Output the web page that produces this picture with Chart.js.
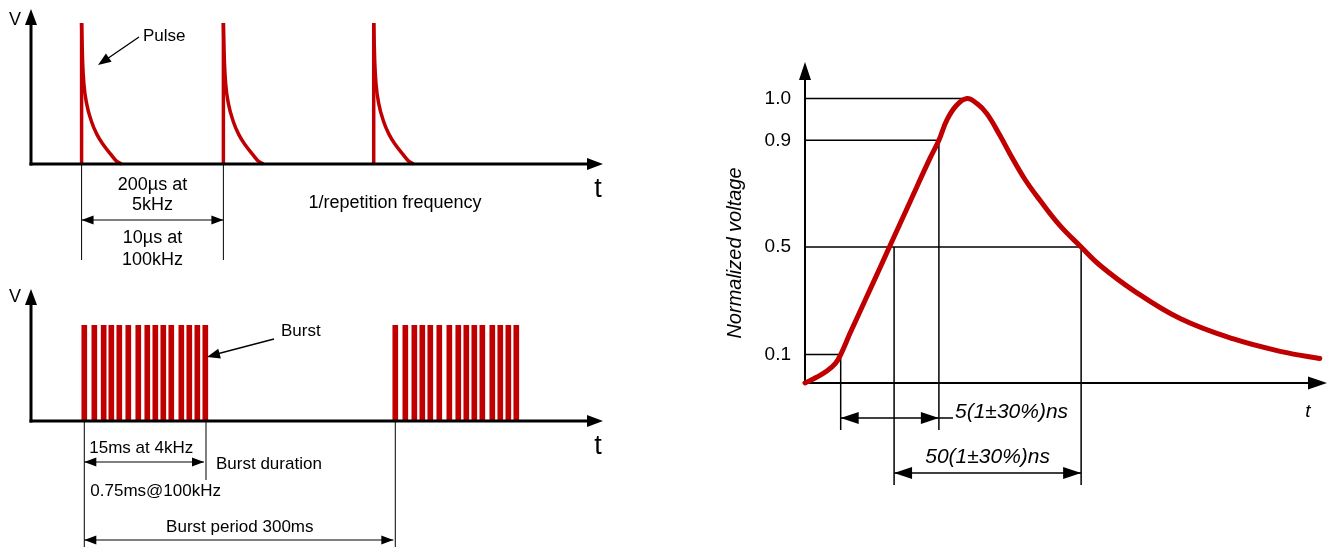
<!DOCTYPE html>
<html>
<head>
<meta charset="utf-8">
<script src="https://cdn.jsdelivr.net/npm/chart.js@4/dist/chart.umd.min.js"></script>
<style>
body { margin: 0; background: #fff; }
#wrap { position: relative; width: 1332px; height: 547px; overflow: hidden; background: #fff; }
canvas { position: absolute; }
</style>
</head>
<body>
<div id="wrap">
	<canvas id="pulseChart" style="left:0;top:0;width:620px;height:280px" width="620" height="280"></canvas>
	<canvas id="burstChart" style="left:0;top:280px;width:620px;height:267px" width="620" height="267"></canvas>
	<canvas id="surgeChart" style="left:700px;top:0;width:632px;height:547px" width="632" height="547"></canvas>
</div>
<script>
// ---- pulse train (top left), time in µs ----
var pulseStartsUs = [71, 270, 481];
var pulseDecayDtUs = [0, 1.4, 3.2, 7, 14, 21.5, 30, 40.7, 49, 56];
var pulseDecayV = [1, 0.73, 0.57, 0.43, 0.30, 0.21, 0.14, 0.07, 0.02, 0];

// ---- bursts (bottom left), time in arbitrary units ----
var burstPos = [9.35, 11.11, 12.75, 14.09, 15.49, 17.07, 18.82, 20.40, 21.81, 23.21, 24.61, 26.37, 27.77, 29.18, 30.58,
	63.91, 65.67, 67.25, 68.65, 70.05, 71.63, 73.39, 74.96, 76.37, 77.77, 79.18, 80.93, 82.33, 83.74, 85.14];
var burstLevel = 1;
var burstEndT = 30.7;
var nextBurstT = 63.91;

// ---- single surge waveform (right), normalized voltage ----
var surgeT = [0, 2.2, 4.2, 5.8, 6.85, 8.64, 11.52, 14.4, 16.2, 20.15, 24.0, 25.7, 27.2, 29.1, 31.1, 33.0, 34.9, 37.4, 39.35, 42.2, 45.1, 48.9, 53.0, 56.6, 63.0, 72.0, 82.1, 91.7, 98.8];
var surgeV = [0, 0.02, 0.042, 0.068, 0.1, 0.179, 0.301, 0.423, 0.5, 0.669, 0.833, 0.9, 0.948, 0.984, 1.0, 0.988, 0.964, 0.912, 0.849, 0.754, 0.675, 0.581, 0.5, 0.432, 0.339, 0.234, 0.159, 0.110, 0.086];
var levelTicks = [0.1, 0.5, 0.9, 1.0];
var levelLabels = ['0.1', '0.5', '0.9', '1.0'];
var levelEndT = [6.85, 53.0, 25.7, 30.7];
var rise10T = 6.85, rise90T = 25.7, half1T = 17.1, half2T = 53.0;

var RED = '#c00000';
var FONT = '"Liberation Sans", Arial, sans-serif';

// the drawing is not to scale in voltage, so the y axis is piecewise
var yWarpKnots = { v: [0, 0.1, 0.5, 0.9, 1.0, 1.13], h: [0, 28.4, 136, 242.7, 284.4, 321] };
function warpLevel(v) {
	var k = yWarpKnots;
	for (var i = 1; i < k.v.length; i++) {
		if (v <= k.v[i]) {
			return k.h[i - 1] + (v - k.v[i - 1]) / (k.v[i] - k.v[i - 1]) * (k.h[i] - k.h[i - 1]);
		}
	}
	return k.h[k.h.length - 1];
}
class WarpScale extends Chart.LinearScale {
	getPixelForValue(value) {
		return this.getPixelForDecimal(warpLevel(value) / warpLevel(this.max));
	}
}
WarpScale.id = 'warp';
WarpScale.defaults = Chart.LinearScale.defaults;
Chart.register(WarpScale);

function seg(c, x1, y1, x2, y2, w) {
	c.save();
	c.strokeStyle = '#000';
	c.lineWidth = w;
	c.beginPath();
	c.moveTo(x1, y1);
	c.lineTo(x2, y2);
	c.stroke();
	c.restore();
}
function head(c, x, y, ang, len, hw) {
	var ca = Math.cos(ang), sa = Math.sin(ang);
	c.save();
	c.fillStyle = '#000';
	c.beginPath();
	c.moveTo(x, y);
	c.lineTo(x - len * ca - hw * sa, y - len * sa + hw * ca);
	c.lineTo(x - len * ca + hw * sa, y - len * sa - hw * ca);
	c.closePath();
	c.fill();
	c.restore();
}
function dim(c, x1, x2, y, len, hw, w) {
	seg(c, x1, y, x2, y, w);
	head(c, x1, y, Math.PI, len, hw);
	head(c, x2, y, 0, len, hw);
}
function label(c, s, x, y, size, align, italic) {
	c.save();
	c.fillStyle = '#000';
	c.font = (italic ? 'italic ' : '') + size + 'px ' + FONT;
	c.textAlign = align || 'center';
	c.textBaseline = 'middle';
	c.fillText(s, x, y);
	c.restore();
}

function baseOptions(pad, xMin, xMax, yMin, yMax, yType) {
	return {
		responsive: false,
		animation: false,
		events: [],
		layout: { padding: pad },
		plugins: { legend: { display: false }, tooltip: { enabled: false } },
		scales: {
			x: { type: 'linear', display: false, min: xMin, max: xMax, offset: false },
			y: { type: yType || 'linear', display: false, min: yMin, max: yMax }
		}
	};
}

// ================= pulse chart =================
var pulseSets = [];
for (var i = 0; i < pulseStartsUs.length; i++) {
	var s = pulseStartsUs[i];
	pulseSets.push({
		data: [{ x: s, y: 0 }, { x: s, y: 1 }],
		borderColor: RED, borderWidth: 3.5, pointRadius: 0, tension: 0, clip: false
	});
	var decay = [];
	for (var j = 0; j < pulseDecayDtUs.length; j++) {
		decay.push({ x: s + pulseDecayDtUs[j], y: pulseDecayV[j] });
	}
	pulseSets.push({
		data: decay,
		borderColor: RED, borderWidth: 3.5, pointRadius: 0, cubicInterpolationMode: 'monotone', clip: false
	});
}

var pulseOptions = baseOptions({ left: 31, top: 23, right: 19, bottom: 116 }, 0, 800, 0, 1);
new Chart(document.getElementById('pulseChart'), {
	type: 'line',
	data: { datasets: pulseSets },
	options: pulseOptions,
	plugins: [{
		id: 'pulseNotes',
		afterDatasetsDraw: function(chart) {
			var c = chart.ctx, xs = chart.scales.x, ys = chart.scales.y;
			var x0 = xs.getPixelForValue(0), y0 = ys.getPixelForValue(0);
			seg(c, x0, y0 + 1.5, x0, 24, 3);
			head(c, x0, 9, -Math.PI / 2, 16, 6);
			seg(c, x0 - 1.5, y0, 590, y0, 3);
			head(c, 603, y0, 0, 16, 6);
			var p1 = xs.getPixelForValue(pulseStartsUs[0]), p2 = xs.getPixelForValue(pulseStartsUs[1]);
			seg(c, p1, y0, p1, 260, 1);
			seg(c, p2, y0, p2, 260, 1);
			dim(c, p1, p2, 220, 12, 4.5, 1.2);
			var m = (p1 + p2) / 2;
			label(c, '200µs at', m, 185, 18);
			label(c, '5kHz', m, 205, 18);
			label(c, '10µs at', m, 238, 18);
			label(c, '100kHz', m, 260, 18);
			label(c, '1/repetition frequency', 395, 203, 18);
			label(c, 't', 598, 190, 27);
			label(c, 'V', 15, 20, 18);
			label(c, 'Pulse', 143, 36, 17, 'left');
			seg(c, 139, 37, 104, 61, 1.3);
			head(c, 98, 65, Math.atan2(65 - 37, 98 - 139), 13, 5);
		}
	}]
});

// ================= burst chart =================
var burstData = [];
for (var i = 0; i < burstPos.length; i++) {
	burstData.push({ x: burstPos[i], y: burstLevel });
}
var burstOptions = baseOptions({ left: 31, top: 45, right: 19, bottom: 126 }, 0, 100, 0, 1);
new Chart(document.getElementById('burstChart'), {
	type: 'bar',
	data: {
		datasets: [{
			data: burstData,
			backgroundColor: RED,
			borderWidth: 0,
			barThickness: 5
		}]
	},
	options: burstOptions,
	plugins: [{
		id: 'burstNotes',
		afterDatasetsDraw: function(chart) {
			var c = chart.ctx, xs = chart.scales.x, ys = chart.scales.y;
			var x0 = xs.getPixelForValue(0), y0 = ys.getPixelForValue(0);
			seg(c, x0, y0 + 1.5, x0, 24, 3);
			head(c, x0, 9, -Math.PI / 2, 16, 6);
			seg(c, x0 - 1.5, y0, 590, y0, 3);
			head(c, 603, y0, 0, 16, 6);
			var b1 = xs.getPixelForValue(burstPos[0]);
			var b2 = xs.getPixelForValue(burstEndT);
			var b3 = xs.getPixelForValue(nextBurstT);
			seg(c, b1, y0, b1, 267, 1);
			seg(c, b2, y0, b2, 200, 1);
			seg(c, b3, y0, b3, 267, 1);
			label(c, '15ms at 4kHz', b1 + 5, 168, 17, 'left');
			dim(c, b1, b2 - 2, 182, 12, 4.5, 1.2);
			label(c, 'Burst duration', 216, 184, 17, 'left');
			label(c, '0.75ms@100kHz', b1 + 6, 211, 17, 'left');
			label(c, 'Burst period 300ms', (b1 + b3) / 2, 247, 17);
			dim(c, b1, b3 - 2, 260, 12, 4.5, 1.2);
			label(c, 't', 598, 167, 27);
			label(c, 'V', 15, 17, 18);
			label(c, 'Burst', 281, 51, 17, 'left');
			seg(c, 274, 59, 213, 75, 1.3);
			head(c, 207, 77, Math.atan2(77 - 59, 207 - 274), 13, 5);
		}
	}]
});

// ================= surge waveform chart =================
var surgeData = [];
for (var i = 0; i < surgeT.length; i++) {
	surgeData.push({ x: surgeT[i], y: surgeV[i] });
}
var surgeOptions = baseOptions({ left: 105, top: 62, right: 6, bottom: 164 }, 0, 100, 0, 1.13, 'warp');
new Chart(document.getElementById('surgeChart'), {
	type: 'line',
	data: {
		datasets: [{
			data: surgeData,
			borderColor: RED,
			borderWidth: 5,
			borderCapStyle: 'round',
			borderJoinStyle: 'round',
			pointRadius: 0,
			tension: 0.4,
			clip: false
		}]
	},
	options: surgeOptions,
	plugins: [{
		id: 'surgeNotes',
		beforeDatasetsDraw: function(chart) {
			var c = chart.ctx, xs = chart.scales.x, ys = chart.scales.y;
			var x0 = xs.getPixelForValue(0), y0 = ys.getPixelForValue(0);
			// level guides
			for (var i = 0; i < levelTicks.length; i++) {
				var ly = ys.getPixelForValue(levelTicks[i]);
				seg(c, x0, ly, xs.getPixelForValue(levelEndT[i]), ly, 1.5);
			}
			var r1 = xs.getPixelForValue(rise10T), r9 = xs.getPixelForValue(rise90T);
			var h1 = xs.getPixelForValue(half1T), h2 = xs.getPixelForValue(half2T);
			seg(c, r1, ys.getPixelForValue(0.1), r1, 430, 1.5);
			seg(c, r9, ys.getPixelForValue(0.9), r9, 430, 1.5);
			seg(c, h1, ys.getPixelForValue(0.5), h1, 485, 1.5);
			seg(c, h2, ys.getPixelForValue(0.5), h2, 485, 1.5);
			// axes
			seg(c, x0, y0 + 1, x0, 76, 2);
			head(c, x0, 62, -Math.PI / 2, 18, 6);
			seg(c, x0 - 1, y0, 610, y0, 2);
			head(c, 627, y0, 0, 19, 6.5);
		},
		afterDraw: function(chart) {
			var c = chart.ctx, xs = chart.scales.x, ys = chart.scales.y;
			for (var i = 0; i < levelTicks.length; i++) {
				label(c, levelLabels[i], 91, ys.getPixelForValue(levelTicks[i]), 19, 'right');
			}
			var r1 = xs.getPixelForValue(rise10T), r9 = xs.getPixelForValue(rise90T);
			var h1 = xs.getPixelForValue(half1T), h2 = xs.getPixelForValue(half2T);
			dim(c, r1, r9, 418, 18, 6, 1.5);
			seg(c, r9, 418, 253, 418, 1.5);
			label(c, '5(1±30%)ns', 255, 412, 21, 'left', true);
			dim(c, h1, h2, 473, 18, 6, 1.5);
			label(c, '50(1±30%)ns', (h1 + h2) / 2, 457, 21, 'center', true);
			label(c, 't', 608, 412, 19, 'center', true);
			c.save();
			c.translate(35, 253);
			c.rotate(-Math.PI / 2);
			label(c, 'Normalized voltage', 0, 0, 20, 'center', true);
			c.restore();
		}
	}]
});
</script>
</body>
</html>
